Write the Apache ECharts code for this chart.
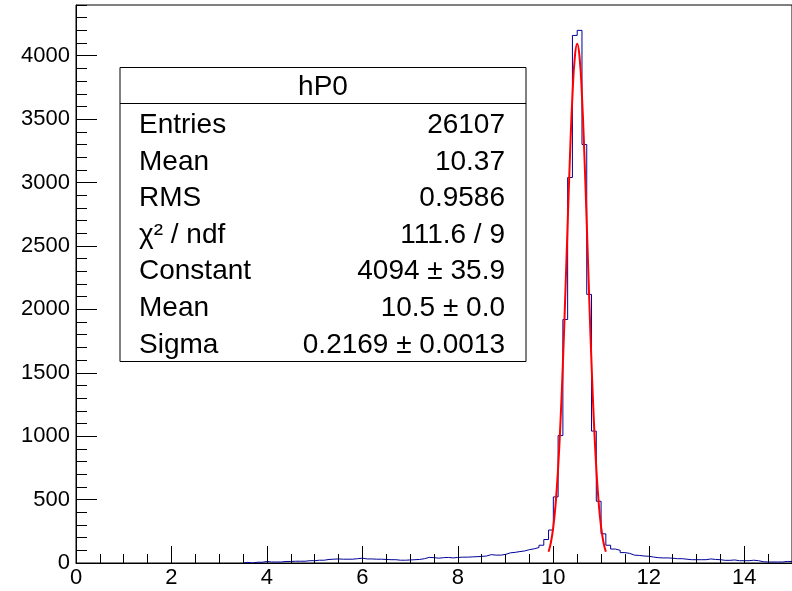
<!DOCTYPE html>
<html><head><meta charset="utf-8">
<script src="https://cdn.jsdelivr.net/npm/echarts@6/dist/echarts.min.js"></script>
<style>html,body{margin:0;padding:0;background:#fff}#c{width:792px;height:591px}</style>
</head><body><div id="c"></div>
<script>
const histTitle = 'hP0';
const xMin = 0, xMax = 15, binWidth = 0.1;
// bin contents, 150 bins of width 0.1 from 0 to 15
const counts = [
  0,0,0,0,0,0,0,0,0,0,
  0,0,0,0,0,0,0,0,0,0,
  0,0,0,0,0,0,0,0,0,0,
  0,0,0,0,0,
  5,0,6,6,12,8,8,8,12,12,
  14,14,14,18,18,22,22,28,30,32,
  30,30,30,34,38,32,32,30,30,28,
  26,26,22,22,24,26,28,34,44,42,
  38,42,44,40,44,46,46,48,50,52,
  55,66,62,62,68,80,84,90,95,105,
  112,122,140,185,260,521,1005,1920,3040,4160,
  4200,3300,2118,1040,487,230,140,110,100,82,
  76,62,60,55,53,47,42,40,40,38,
  34,34,30,26,26,26,26,32,28,26,
  21,21,24,18,18,18,22,18,10,8,
  8,8,8,12,12
];
// Gaussian fit curve points
const fitX = [9.90,9.95,10.00,10.05,10.10,10.15,10.20,10.25,10.30,10.35,10.40,10.45,10.50,
              10.55,10.60,10.65,10.70,10.75,10.80,10.85,10.90,10.95,11.00,11.05,11.10];
const fitY = [89,164,287,476,748,1114,1573,2107,2676,3223,3681,3987,4094,
              3987,3681,3223,2676,2107,1573,1114,748,476,287,164,89];
const statLabels = ['Entries','Mean','RMS','χ² / ndf','Constant','Mean','Sigma'];
const statValues = ['26107','10.37','0.9586','111.6 / 9','4094 ± 35.9','10.5 ± 0.0','0.2169 ± 0.0013'];

const FONT = '"Liberation Sans", Arial, Helvetica, sans-serif';

// step outline of the histogram (empty leading bins lie on the axis)
let first = counts.findIndex(v => v > 0);
const histData = [[+(xMin + first * binWidth).toFixed(2), 0]];
for (let i = first; i < counts.length; i++) histData.push([+(xMin + i * binWidth).toFixed(2), counts[i]]);
histData.push([xMax, counts[counts.length - 1]]);
const fitData = fitX.map((x, i) => [x, fitY[i]]);

const boxL = 120, boxR = 526, boxT = 67.5, boxB = 361.5, sepY = 103.5;
const graphics = [
  {type:'rect', z:10, shape:{x:boxL, y:boxT, width:boxR-boxL, height:boxB-boxT},
   style:{fill:'#fff', stroke:'#000', lineWidth:1}},
  {type:'line', z:11, shape:{x1:boxL, y1:sepY, x2:boxR, y2:sepY}, style:{stroke:'#000', lineWidth:1}},
  {type:'text', z:11, style:{text:histTitle, x:(boxL+boxR)/2, y:87.5, fill:'#000',
   font:'28px ' + FONT, align:'center', verticalAlign:'middle'}}
];
statLabels.forEach((lab, k) => {
  const y = 125.2 + 36.6 * k;
  graphics.push({type:'text', z:11, style:{text:lab, x:139, y:y, fill:'#000',
    font:'28px ' + FONT, align:'left', verticalAlign:'middle'}});
  graphics.push({type:'text', z:11, style:{text:statValues[k], x:505, y:y, fill:'#000',
    font:'28px ' + FONT, align:'right', verticalAlign:'middle'}});
});

const plain = v => String(v);
const chart = echarts.init(document.getElementById('c'), null, {renderer:'canvas'});
chart.setOption({
  animation:false,
  backgroundColor:'#fff',
  grid:{left:76, right:-2, top:5, bottom:28, show:true, borderColor:'#000', borderWidth:1,
        backgroundColor:'transparent', containLabel:false},
  xAxis:[
    {type:'value', min:xMin, max:xMax, interval:2, position:'bottom', z:5,
     axisLine:{show:true, onZero:false, lineStyle:{color:'#000', width:1}},
     axisTick:{show:true, inside:true, length:17, lineStyle:{color:'#000', width:1}},
     axisLabel:{fontSize:22, fontFamily:FONT, color:'#000', margin:4, showMaxLabel:false, formatter:plain},
     splitLine:{show:false}},
    {type:'value', min:xMin, max:xMax, interval:0.5, position:'bottom', z:5,
     axisLine:{show:false, onZero:false},
     axisTick:{show:true, inside:true, length:9, lineStyle:{color:'#000', width:1}},
     axisLabel:{show:false}, splitLine:{show:false}}
  ],
  yAxis:[
    {type:'value', min:0, max:4400, interval:500, position:'left', z:5,
     axisLine:{show:true, onZero:false, lineStyle:{color:'#000', width:1}},
     axisTick:{show:true, inside:true, length:21, lineStyle:{color:'#000', width:1}},
     axisLabel:{fontSize:22, fontFamily:FONT, color:'#000', margin:6, showMaxLabel:false, formatter:plain},
     splitLine:{show:false}},
    {type:'value', min:0, max:4400, interval:100, position:'left', z:5,
     axisLine:{show:false, onZero:false},
     axisTick:{show:true, inside:true, length:11, lineStyle:{color:'#000', width:1}},
     axisLabel:{show:false}, splitLine:{show:false}}
  ],
  series:[
    {type:'line', xAxisIndex:0, yAxisIndex:0, data:histData, step:'end', symbol:'none',
     lineStyle:{color:'#000099', width:1}, z:2, silent:true},
    {type:'line', xAxisIndex:0, yAxisIndex:0, data:fitData, smooth:true, symbol:'none',
     lineStyle:{color:'#ff0000', width:2}, z:3, silent:true}
  ],
  graphic:graphics
});
</script></body></html>
